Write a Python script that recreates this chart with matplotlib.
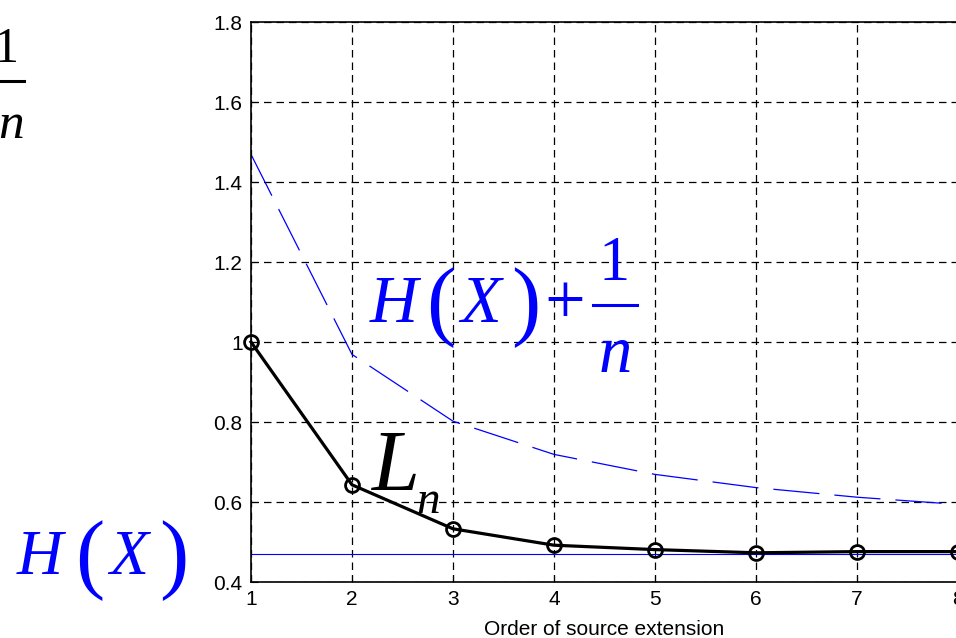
import matplotlib
matplotlib.use("Agg")
import matplotlib.pyplot as plt
from matplotlib.lines import Line2D

plt.rcParams['font.family'] = ['Liberation Sans', 'DejaVu Sans']

n_order = [1, 2, 3, 4, 5, 6, 7, 8]
L_n = [1.0, 0.643, 0.533, 0.492, 0.481, 0.473, 0.476, 0.476]
H_X = [0.469, 0.469, 0.469, 0.469, 0.469, 0.469, 0.469, 0.469]
H_plus = [1.469, 0.969, 0.802, 0.719, 0.669, 0.636, 0.612, 0.594]

xticks = [1, 2, 3, 4, 5, 6, 7, 8]
yticks = [0.4, 0.6, 0.8, 1.0, 1.2, 1.4, 1.6, 1.8]
yticklabels = ['0.4', '0.6', '0.8', '1', '1.2', '1.4', '1.6', '1.8']

W, H = 956, 638
fig = plt.figure(figsize=(W / 100, H / 100), dpi=100)
ax = fig.add_axes([251 / W, 1 - 582 / H, 707 / W, 560 / H])

ax.plot(n_order, H_X, color='blue', lw=0.8)
ax.plot(n_order, H_plus, color='blue', lw=0.9, dashes=(37, 12))
ax.plot(n_order, L_n, color='black', lw=2.3, marker='o', markersize=10,
        markerfacecolor='none', markeredgewidth=2, clip_on=False, zorder=5)

ax.set_xlim(1, 8)
ax.set_ylim(0.4, 1.8)
ax.set_xticks(xticks)
ax.set_yticks(yticks)
ax.set_yticklabels(yticklabels)
ax.tick_params(direction='in', labelsize=15, length=5, pad=6)
ax.grid(True, color='black', linestyle=(0, (6, 4)), lw=0.9)
ax.set_xlabel("Order of source extension", fontsize=15, labelpad=8)
for s in ax.spines.values():
    s.set_linewidth(1.2)


# formula pieces placed in pixel coords (x from left, y = baseline from top)
def put(x, y, s, size, color, italic=True, ha='center'):
    fig.text(x / W, 1 - y / H, s, fontsize=size, color=color,
             family='Liberation Serif', style='italic' if italic else 'normal',
             ha=ha, va='baseline')


def bar(x0, x1, y, color):
    fig.add_artist(Line2D([x0 / W, x1 / W], [1 - y / H, 1 - y / H],
                          color=color, lw=2.2, transform=fig.transFigure))


# H(X) + 1/n
put(394, 322, 'H', 48, 'blue')
put(441, 329, '(', 63, 'blue', italic=False)
put(481, 322, 'X', 48, 'blue')
put(526, 329, ')', 63, 'blue', italic=False)
put(565, 323, '+', 52, 'blue', italic=False)
bar(593, 637, 305, 'blue')
put(614, 280, '1', 45, 'blue', italic=False)
put(615, 372, 'n', 48, 'blue')

# L_n
put(395, 490, 'L', 62, 'black')
put(428, 513, 'n', 34, 'black')

# H(X)
put(40, 574, 'H', 46, 'blue')
put(90, 582, '(', 63, 'blue', italic=False)
put(129, 574, 'X', 46, 'blue')
put(174, 582, ')', 63, 'blue', italic=False)

# cut-off fraction at top-left
put(19, 62, '1', 36, 'black', italic=False, ha='right')
bar(0, 24, 81, 'black')
put(24, 138, 'n', 37, 'black', ha='right')

fig.savefig('out.png', dpi=100)
